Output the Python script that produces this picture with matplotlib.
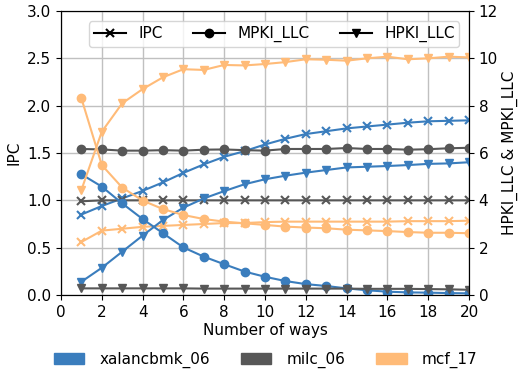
import numpy as np
import matplotlib
matplotlib.use("Agg")
import matplotlib.pyplot as plt
from matplotlib.lines import Line2D
from matplotlib.patches import Patch

ways = np.arange(1, 21)

benchmarks = ["xalancbmk_06", "milc_06", "mcf_17"]
colors = ["#3a7dbd", "#575757", "#ffbb78"]

# IPC (left axis)
ipc_xalanc = [0.85, 0.94, 1.02, 1.10, 1.19, 1.29, 1.38, 1.46, 1.52, 1.59,
              1.65, 1.70, 1.73, 1.76, 1.78, 1.80, 1.82, 1.835, 1.84, 1.845]
ipc_milc = [0.99, 1.0, 1.0, 1.0, 1.0, 1.0, 1.0, 1.0, 1.0, 1.0,
            1.0, 1.0, 1.0, 1.0, 1.0, 1.0, 1.0, 1.0, 1.0, 1.0]
ipc_mcf = [0.56, 0.68, 0.70, 0.72, 0.73, 0.74, 0.75, 0.76, 0.76, 0.77,
           0.775, 0.775, 0.775, 0.775, 0.775, 0.775, 0.78, 0.78, 0.78, 0.785]

# MPKI_LLC (right axis)
mpki_xalanc = [5.10, 4.58, 3.87, 3.21, 2.61, 2.01, 1.62, 1.30, 0.99, 0.77,
               0.59, 0.46, 0.38, 0.28, 0.20, 0.14, 0.11, 0.10, 0.08, 0.07]
mpki_milc = [6.17, 6.15, 6.10, 6.10, 6.12, 6.10, 6.14, 6.15, 6.12, 6.10,
             6.17, 6.17, 6.17, 6.21, 6.17, 6.17, 6.14, 6.16, 6.20, 6.22]
mpki_mcf = [8.31, 5.49, 4.54, 3.99, 3.63, 3.38, 3.21, 3.10, 3.03, 2.96,
            2.89, 2.85, 2.82, 2.76, 2.73, 2.70, 2.66, 2.63, 2.63, 2.61]

# HPKI_LLC (right axis)
hpki_xalanc = [0.56, 1.15, 1.83, 2.51, 3.17, 3.69, 4.08, 4.39, 4.68, 4.89,
               5.04, 5.17, 5.28, 5.39, 5.42, 5.45, 5.49, 5.54, 5.56, 5.61]
hpki_milc = [0.28, 0.28, 0.28, 0.28, 0.28, 0.28, 0.27, 0.27, 0.27, 0.27,
             0.27, 0.27, 0.27, 0.27, 0.26, 0.26, 0.26, 0.25, 0.24, 0.22]
hpki_mcf = [4.44, 6.90, 8.10, 8.70, 9.20, 9.54, 9.51, 9.72, 9.70, 9.76,
            9.84, 9.96, 9.94, 9.90, 10.00, 10.07, 9.96, 10.00, 10.07, 10.04]

ipc = [ipc_xalanc, ipc_milc, ipc_mcf]
mpki = [mpki_xalanc, mpki_milc, mpki_mcf]
hpki = [hpki_xalanc, hpki_milc, hpki_mcf]

plt.rcParams["font.size"] = 11

fig = plt.figure(figsize=(5.26, 3.71), dpi=100)
ax1 = fig.add_axes([61 / 526, 1 - 295 / 371, 408 / 526, 284 / 371])
ax2 = ax1.twinx()

lw = 1.5
ms = 6
for c, i, m, h in zip(colors, ipc, mpki, hpki):
    ax1.plot(ways, i, color=c, marker="x", markersize=ms, markeredgewidth=1.5, linewidth=lw)
    ax2.plot(ways, m, color=c, marker="o", markersize=ms, linewidth=lw)
    ax2.plot(ways, h, color=c, marker="v", markersize=ms, linewidth=lw)

ax1.set_xlim(0, 20)
ax1.set_ylim(0, 3.0)
ax2.set_ylim(0, 12)
ax1.set_xticks(np.arange(0, 21, 2))
ax1.set_yticks(np.arange(0, 3.01, 0.5))
ax2.set_yticks(np.arange(0, 13, 2))
ax1.grid(True, color="#c0c0c0", linewidth=1)
ax1.set_axisbelow(True)

ax1.set_xlabel("Number of ways", labelpad=2)
ax1.set_ylabel("IPC")
ax2.set_ylabel("HPKI_LLC & MPKI_LLC", labelpad=3)

marker_handles = [
    Line2D([], [], color="black", marker="x", markersize=ms, markeredgewidth=1.5, linewidth=lw),
    Line2D([], [], color="black", marker="o", markersize=ms, linewidth=lw),
    Line2D([], [], color="black", marker="v", markersize=ms, linewidth=lw),
]
ax2.legend(marker_handles, ["IPC", "MPKI_LLC", "HPKI_LLC"], loc="upper right",
           ncol=3, bbox_to_anchor=(0.995, 0.99), columnspacing=2.0, handlelength=2.1,
           handletextpad=0.8, borderpad=0.3)

patch_handles = [Patch(color=c) for c in colors]
fig.legend(patch_handles, benchmarks, loc="lower center", ncol=3, frameon=False,
           bbox_to_anchor=(0.505, -0.03), columnspacing=2.0, handlelength=2.0,
           handletextpad=1.0)

fig.savefig("out.png", dpi=100)
